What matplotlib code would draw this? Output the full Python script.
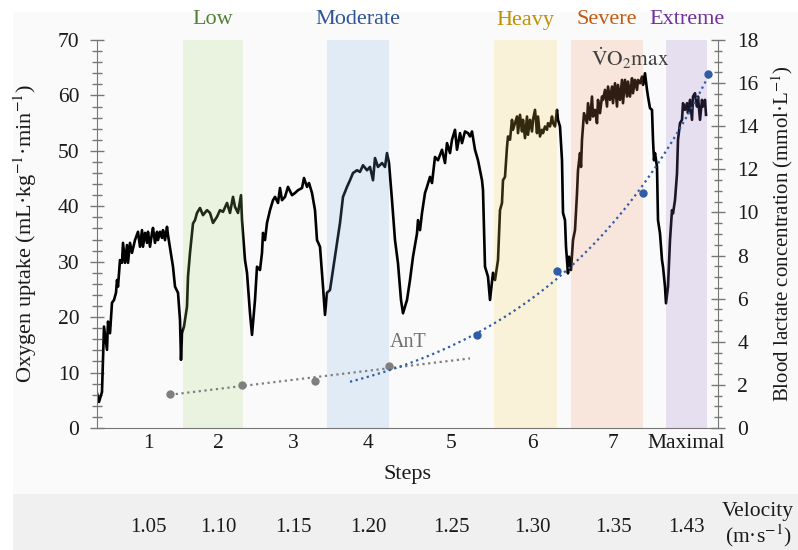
"""Oxygen uptake and blood lactate across an incremental step test."""
import numpy as np
import matplotlib

matplotlib.use("Agg")
import matplotlib.pyplot as plt
from matplotlib.patches import Rectangle
from matplotlib.ticker import MultipleLocator
from matplotlib.transforms import blended_transform_factory

plt.rcParams["font.family"] = ["Liberation Serif", "DejaVu Serif"]
plt.rcParams["mathtext.fontset"] = "stix"

INK = "#1a1a1a"
AXIS = "#767676"
GRAY = "#7f7f7f"
BLUE = "#2f5ca8"

# VO2 trace (time in arbitrary units across the test, mL/kg/min)
t = [0, 2, 5, 7, 10, 11, 13, 15, 17, 19, 20, 21, 23, 25, 26, 28, 30, 31, 33, 35,
     38, 41, 43, 45, 46, 48, 50, 51, 53, 55, 56, 58, 60, 61, 63, 65, 66, 68, 70, 71,
     73, 75, 76, 78, 81, 82, 83, 84, 85, 87, 90, 91, 93, 95, 96, 98, 100, 103, 106, 110,
     113, 116, 120, 123, 126, 130, 133, 136, 138, 141, 144, 145, 148, 150, 151, 153, 155, 158, 160, 163,
     165, 166, 168, 170, 173, 176, 178, 181, 183, 185, 188, 191, 195, 198, 201, 205, 207, 210, 212, 215,
     218, 220, 223, 226, 228, 230, 233, 236, 240, 243, 246, 250, 253, 256, 260, 263, 266, 270, 273, 276,
     278, 281, 285, 288, 290, 292, 295, 298, 301, 304, 306, 310, 313, 316, 320, 321, 323, 325, 328, 330,
     333, 335, 338, 341, 345, 348, 350, 353, 355, 358, 360, 363, 365, 368, 371, 373, 375, 378, 381, 385,
     386, 388, 391, 393, 396, 398, 401, 403, 405, 406, 408, 410, 411, 413, 415, 416, 418, 420, 421, 423,
     425, 426, 428, 430, 431, 433, 435, 436, 438, 440, 441, 443, 445, 446, 448, 450, 451, 453, 455, 456,
     458, 460, 461, 463, 465, 466, 468, 469, 471, 472, 474, 476, 478, 480, 481, 483, 484, 485, 487, 490,
     491, 493, 495, 496, 498, 500, 501, 503, 505, 506, 508, 510, 511, 513, 515, 516, 518, 520, 521, 523,
     525, 526, 528, 530, 531, 533, 535, 536, 538, 540, 541, 543, 545, 546, 548, 550, 551, 553, 555, 556,
     557, 558, 560, 561, 563, 565, 566, 568, 569, 571, 573, 575, 576, 578, 580, 581, 583, 585, 586, 588,
     590, 591, 593, 595, 596, 598, 600, 601, 603, 605, 606, 608, 609]
vo2 = [6.3, 4.7, 6.5, 18.3, 14.1, 19.2, 17.1, 22.6, 23.1, 24.4, 26.7, 25.5, 30.3, 29.8, 33.4, 29.8, 33.0, 29.8, 33.4, 31.6,
       33.9, 35.4, 32.7, 35.7, 32.7, 35.2, 33.4, 35.4, 32.7, 35.2, 36.1, 33.4, 35.4, 33.9, 35.4, 34.3, 35.7, 33.9, 36.3, 34.8,
       32.5, 30.3, 29.1, 25.5, 24.4, 21.9, 19.5, 12.3, 17.1, 18.3, 21.9, 27.3, 31.6, 35.2, 36.9, 37.5, 38.8, 39.7, 38.4, 39.3,
       38.8, 37.0, 38.1, 39.3, 39.0, 40.6, 38.8, 41.7, 39.9, 38.8, 42.0, 37.5, 30.3, 28.0, 25.5, 20.7, 16.8, 23.1, 29.1, 28.5,
       31.6, 35.2, 33.9, 37.0, 39.3, 41.1, 41.7, 40.6, 43.3, 41.1, 41.7, 43.5, 42.0, 42.4, 42.9, 43.3, 45.1, 43.5, 44.2, 42.4,
       39.3, 33.9, 32.7, 25.5, 20.4, 24.4, 24.9, 28.5, 33.4, 37.0, 41.7, 43.5, 44.7, 46.0, 46.5, 46.2, 47.4, 46.5, 47.1, 44.7,
       48.7, 47.1, 47.8, 47.1, 49.6, 47.8, 41.1, 33.9, 29.7, 23.1, 20.7, 23.1, 26.7, 30.9, 35.1, 37.5, 35.7, 38.8, 42.4, 43.5,
       45.3, 44.2, 48.9, 48.3, 50.2, 47.8, 51.4, 49.6, 52.0, 53.8, 50.2, 53.2, 51.4, 53.5, 53.2, 52.6, 53.5, 50.2, 48.3, 44.7,
       42.9, 29.1, 27.3, 23.1, 28.0, 26.7, 30.3, 39.3, 40.6, 44.7, 45.3, 50.7, 52.6, 52.0, 55.6, 53.8, 55.0, 56.2, 53.2, 56.5,
       53.5, 55.6, 52.3, 56.2, 52.9, 55.6, 53.5, 55.6, 57.4, 53.2, 56.2, 52.6, 53.8, 53.2, 54.4, 53.8, 55.0, 54.4, 56.2, 55.0,
       54.4, 57.4, 55.6, 54.4, 48.3, 38.8, 37.5, 32.7, 27.9, 30.9, 28.5, 33.9, 35.7, 42.3, 46.5, 49.6, 47.1, 52.0, 56.8, 55.0,
       58.6, 55.6, 59.8, 56.2, 57.4, 55.0, 59.2, 56.8, 59.8, 59.2, 61.0, 58.0, 61.6, 59.2, 61.6, 58.6, 62.2, 58.0, 61.9, 59.2,
       62.8, 58.6, 62.8, 59.8, 62.5, 59.8, 63.1, 60.4, 62.8, 61.0, 62.8, 62.2, 63.4, 61.9, 64.0, 61.0, 59.8, 57.7, 57.4, 52.0,
       48.3, 49.6, 47.1, 37.5, 35.1, 30.3, 29.1, 25.5, 22.5, 25.5, 33.9, 39.3, 38.7, 41.1, 45.9, 52.0, 55.0, 55.6, 58.6, 57.4,
       58.6, 56.8, 59.2, 55.6, 59.8, 60.4, 58.0, 59.8, 55.6, 59.2, 58.0, 59.2, 56.5]

# blood lactate samples (mmol/L): below and above the anaerobic threshold
lac_low_t = [73, 145, 218, 292]
lac_low = [1.58, 1.98, 2.18, 2.88]
lac_high_t = [380, 460, 546, 611]
lac_high = [4.30, 7.30, 10.89, 16.41]

# intensity domains
zone_names = ["Low", "Moderate", "Heavy", "Severe", "Extreme"]
zone_start = [86, 230, 397, 474, 569]
zone_end = [146, 292, 460, 546, 610]
zone_fill = ["#aad778", "#7dafe1", "#ffd250", "#f09664", "#9673c8"]
zone_text = ["#548235", "#2f5597", "#bf9000", "#c55a11", "#7030a0"]

# steps and treadmill velocity
step_pos = [51, 121, 196, 271, 354, 435, 516, 589]
step_labels = ["1", "2", "3", "4", "5", "6", "7", "Maximal"]
velocity = ["1.05", "1.10", "1.15", "1.20", "1.25", "1.30", "1.35", "1.43"]

fig = plt.figure(figsize=(7.98, 5.5), dpi=100)
fig.patch.set_facecolor("white")
fig.add_artist(Rectangle((13 / 798, 0), 1, 1 - 12 / 550, transform=fig.transFigure,
                         facecolor="#fafafa", edgecolor="none", zorder=-10))
fig.add_artist(Rectangle((13 / 798, 0), 1, 56 / 550, transform=fig.transFigure,
                         facecolor="#f0f0f0", edgecolor="none", zorder=-9))

ax = fig.add_axes([97 / 798, 1 - 428 / 550, 621 / 798, 388 / 550])
ax.patch.set_visible(False)
top_tr = blended_transform_factory(ax.transData, fig.transFigure)

ax.plot(t, vo2, color="black", lw=1.9, zorder=2, solid_joinstyle="round")
for name, x0, x1, fc, tc in zip(zone_names, zone_start, zone_end, zone_fill, zone_text):
    ax.axvspan(x0, x1, facecolor=fc, alpha=0.2, edgecolor="none", zorder=3)
    ax.text((x0 + x1) / 2, 1 - 20 / 550, name, color=tc, fontsize=16,
            ha="center", va="center", transform=top_tr)

ax.set_xlim(0, 621)
ax.set_ylim(0, 70)
ax.yaxis.set_major_locator(MultipleLocator(10))
ax.yaxis.set_minor_locator(MultipleLocator(2))
ax.set_xticks(step_pos)
ax.set_xticklabels(step_labels)
ax.tick_params(axis="x", length=0, pad=4, labelsize=15.5, labelcolor=INK)
ax.tick_params(axis="y", which="major", direction="inout", length=9.5, width=1, color=AXIS,
               labelsize=15.5, labelcolor=INK, pad=8)
ax.tick_params(axis="y", which="minor", direction="inout", length=6.5, width=1, color=AXIS)
for side in ("top", "right"):
    ax.spines[side].set_visible(False)
for side in ("left", "bottom"):
    ax.spines[side].set_color(AXIS)
ax.set_ylabel("Oxygen uptake (mL·kg$^{-1}$·min$^{-1}$)", fontsize=16, color=INK)
ax.yaxis.set_label_coords(-0.093, 0.5)
ax.set_xlabel("Steps", fontsize=16, color=INK, labelpad=9)

ax2 = ax.twinx()
ax2.set_ylim(0, 18)
ax2.set_xlim(0, 621)
ax2.yaxis.set_major_locator(MultipleLocator(2))
ax2.yaxis.set_minor_locator(MultipleLocator(0.5))
ax2.tick_params(axis="y", which="major", direction="inout", length=10, width=1, color=AXIS,
                labelsize=15.5, labelcolor=INK, pad=9)
ax2.tick_params(axis="y", which="minor", direction="inout", length=6, width=1, color=AXIS)
for side in ("top", "left", "bottom"):
    ax2.spines[side].set_visible(False)
ax2.spines["right"].set_color(AXIS)
ax2.set_ylabel("Blood lactate concentration (mmol·L$^{-1}$)", fontsize=15, color=INK)
ax2.yaxis.set_label_coords(1.083, 0.5)

# trend lines: linear below threshold, exponential above
k, b = np.polyfit(lac_low_t, lac_low, 1)
xl = np.array([lac_low_t[0], 373])
ax2.plot(xl, k * xl + b, color=GRAY, lw=1.6, ls=(0, (1, 1.6)))
ax2.plot(lac_low_t, lac_low, "o", color=GRAY, ms=5)
ke, be = np.polyfit(lac_high_t, np.log(lac_high), 1)
xe = np.linspace(253, lac_high_t[-1], 100)
ax2.plot(xe, np.exp(ke * xe + be), color=BLUE, lw=1.6, ls=(0, (1, 1.6)))
ax2.plot(lac_high_t, lac_high, "o", color=BLUE, ms=5)

ax2.text(311, 3.95, "AnT", color="#6f6f6f", fontsize=14.5, ha="center", va="center")
ax2.text(533, 17.15, r"$\dot{\mathrm{V}}\mathrm{O}_2\mathrm{max}$", color="#404040",
         fontsize=15.5, ha="center", va="center")

# velocity strip
for x, v in zip(step_pos, velocity):
    ax.text(x, 1 - 528 / 550, v, transform=top_tr, ha="center", va="center",
            fontsize=15, color=INK, clip_on=False)
fig.text(758 / 798, 1 - 525.5 / 550, "Velocity\n(m·s$^{-1}$)", ha="center", va="center",
         fontsize=15.5, color=INK, linespacing=1.1)

fig.savefig("out.png", dpi=100)
